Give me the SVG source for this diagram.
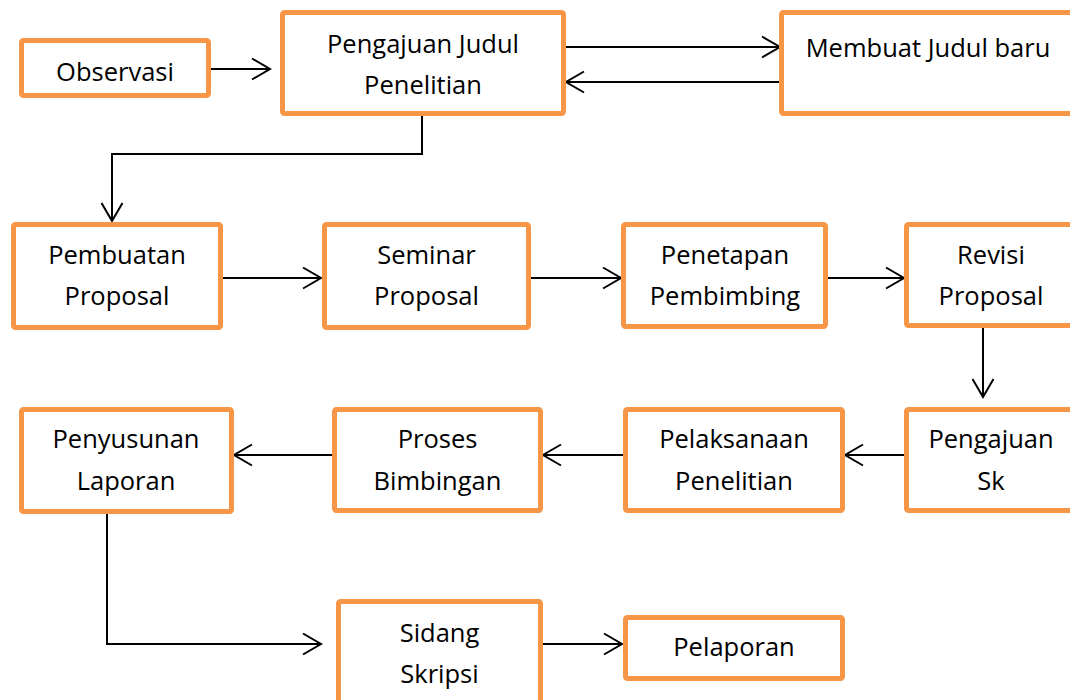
<svg xmlns="http://www.w3.org/2000/svg" width="1070" height="700" viewBox="0 0 1070 700">
<style>
.box{fill:#fff;stroke:#F79646;stroke-width:5;}
.lbl{font-family:"Open Sans","Liberation Sans",sans-serif;font-size:25.5px;fill:#000;text-anchor:middle;}
.con{fill:none;stroke:#000;stroke-width:2;}
</style>
<defs>
<marker id="arr" markerUnits="userSpaceOnUse" markerWidth="22" markerHeight="26" viewBox="0 0 22 26" refX="19" refY="13" orient="auto">
<path d="M1,2.5 L19,13 L1,23.5" fill="none" stroke="#000" stroke-width="2"/>
</marker>
</defs>
<rect width="1070" height="700" fill="#fff"/>
<g id="connectors">
<path class="con" d="M211,69 H270" marker-end="url(#arr)"/>
<path class="con" d="M566,47 H780" marker-end="url(#arr)"/>
<path class="con" d="M781,82 H566" marker-end="url(#arr)"/>
<path class="con" d="M422,116 V154 H112 V221" marker-end="url(#arr)"/>
<path class="con" d="M223,278 H321" marker-end="url(#arr)"/>
<path class="con" d="M531,278 H621" marker-end="url(#arr)"/>
<path class="con" d="M828,278 H904" marker-end="url(#arr)"/>
<path class="con" d="M983,328 V397" marker-end="url(#arr)"/>
<path class="con" d="M904,455 H845" marker-end="url(#arr)"/>
<path class="con" d="M623,455 H543" marker-end="url(#arr)"/>
<path class="con" d="M333,455 H234" marker-end="url(#arr)"/>
<path class="con" d="M112,511 H107 V644 H321" marker-end="url(#arr)"/>
<path class="con" d="M543,644 H622" marker-end="url(#arr)"/>
</g>
<g id="observasi"><rect class="box" x="21.5" y="40.5" width="187" height="55" rx="2"/><text class="lbl" x="115" y="81">Observasi</text></g>
<g id="pengajuan-judul"><rect class="box" x="282.5" y="12.5" width="281" height="101" rx="2"/><text class="lbl" x="423" y="53">Pengajuan Judul</text><text class="lbl" x="423" y="94">Penelitian</text></g>
<g id="membuat-judul"><rect class="box" x="781.5" y="12.5" width="300" height="101" rx="2"/><text class="lbl" x="928" y="57">Membuat Judul baru</text></g>
<g id="pembuatan-proposal"><rect class="box" x="13.5" y="224.5" width="207" height="103" rx="2"/><text class="lbl" x="117" y="264">Pembuatan</text><text class="lbl" x="117" y="305">Proposal</text></g>
<g id="seminar-proposal"><rect class="box" x="324.5" y="224.5" width="204" height="103" rx="2"/><text class="lbl" x="426.5" y="264">Seminar</text><text class="lbl" x="426.5" y="305">Proposal</text></g>
<g id="penetapan-pembimbing"><rect class="box" x="623.5" y="224.5" width="202" height="102" rx="2"/><text class="lbl" x="725" y="264">Penetapan</text><text class="lbl" x="725" y="305">Pembimbing</text></g>
<g id="revisi-proposal"><rect class="box" x="906.5" y="224.5" width="180" height="101" rx="2"/><text class="lbl" x="991" y="264">Revisi</text><text class="lbl" x="991" y="305">Proposal</text></g>
<g id="pengajuan-sk"><rect class="box" x="906.5" y="409.5" width="180" height="101" rx="2"/><text class="lbl" x="991" y="448">Pengajuan</text><text class="lbl" x="991" y="490">Sk</text></g>
<g id="pelaksanaan-penelitian"><rect class="box" x="625.5" y="409.5" width="217" height="101" rx="2"/><text class="lbl" x="734" y="448">Pelaksanaan</text><text class="lbl" x="734" y="490">Penelitian</text></g>
<g id="proses-bimbingan"><rect class="box" x="334.5" y="409.5" width="206" height="101" rx="2"/><text class="lbl" x="437.5" y="448">Proses</text><text class="lbl" x="437.5" y="490">Bimbingan</text></g>
<g id="penyusunan-laporan"><rect class="box" x="21.5" y="409.5" width="210" height="102" rx="2"/><text class="lbl" x="126" y="448">Penyusunan</text><text class="lbl" x="126" y="490">Laporan</text></g>
<g id="sidang-skripsi"><rect class="box" x="338.5" y="601.5" width="202" height="110" rx="2"/><text class="lbl" x="439.5" y="642">Sidang</text><text class="lbl" x="439.5" y="683">Skripsi</text></g>
<g id="pelaporan"><rect class="box" x="625.5" y="617.5" width="217" height="61" rx="2"/><text class="lbl" x="734" y="656">Pelaporan</text></g>
</svg>
